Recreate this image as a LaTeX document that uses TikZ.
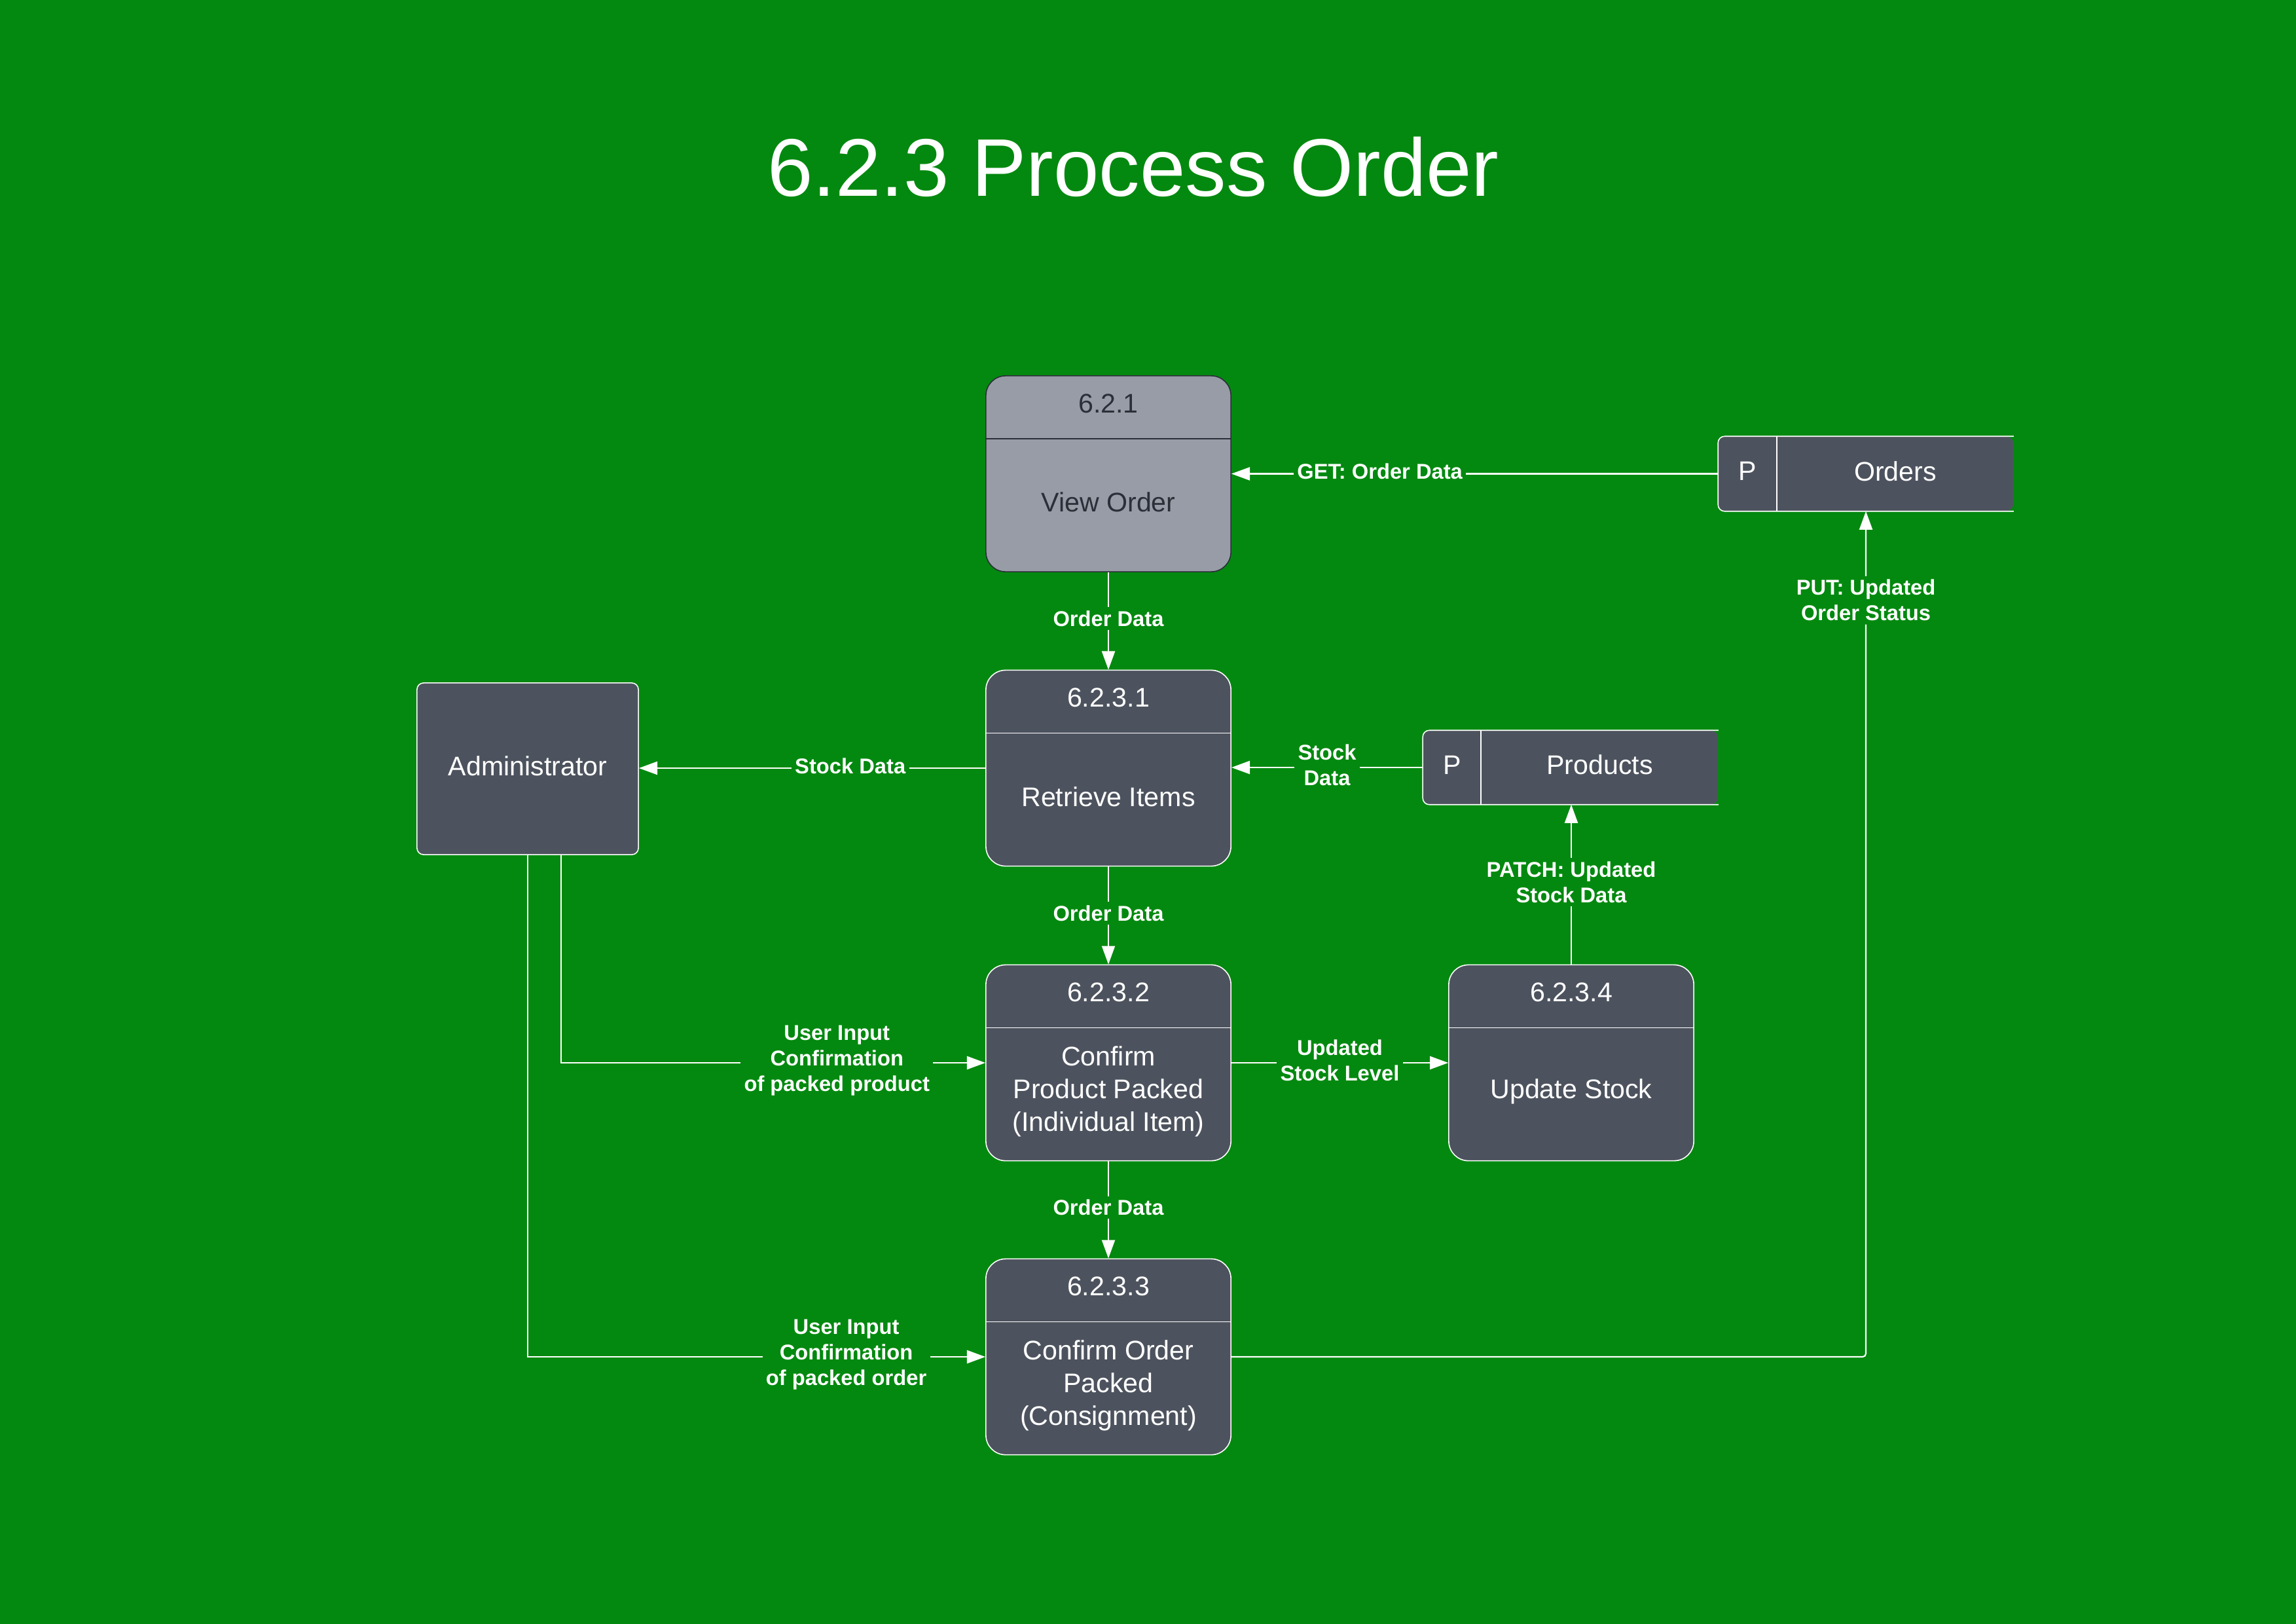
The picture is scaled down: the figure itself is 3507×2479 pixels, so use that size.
\documentclass[tikz,border=0pt]{standalone}
\usepackage{fontspec}
\setmainfont{Liberation Sans}
\usetikzlibrary{arrows.meta}
\definecolor{bg}{HTML}{03890F}
\definecolor{boxfill}{HTML}{4D535E}
\definecolor{lightfill}{HTML}{979CA7}
\definecolor{darktext}{HTML}{2B2F37}
\tikzset{
  proc/.style={rectangle, rounded corners=0.3cm, draw=white, line width=0.45pt, fill=boxfill, minimum width=3.74cm, minimum height=2.99cm, inner sep=0pt},
  procdiv/.style={draw=white, line width=0.45pt},
  proctxt/.style={text=white, font=\fontsize{11.7}{14.3}\selectfont, align=center, inner sep=0pt, yshift=0.04cm},
  light/.style={rectangle, rounded corners=0.3cm, draw=darktext, line width=0.45pt, fill=lightfill, minimum width=3.74cm, minimum height=2.99cm, inner sep=0pt},
  lightdiv/.style={draw=darktext, line width=0.45pt},
  lighttxt/.style={text=darktext, font=\fontsize{11.7}{14.3}\selectfont, align=center, inner sep=0pt, yshift=0.04cm},
  store/.style={rectangle, rounded corners=0.1cm, fill=boxfill, inner sep=0pt},
  storeline/.style={draw=white, line width=0.45pt, rounded corners=0.1cm},
  storetxt/.style={text=white, font=\fontsize{11.7}{14.3}\selectfont, inner sep=0pt, yshift=0.04cm},
  entity/.style={rectangle, rounded corners=0.1cm, draw=white, line width=0.45pt, fill=boxfill, minimum width=3.38cm, minimum height=2.62cm},
  entitytxt/.style={text=white, font=\fontsize{11.7}{14.3}\selectfont, inner sep=0pt, yshift=0.04cm},
  lbl/.style={fill=bg, text=white, font=\fontsize{9.3}{11.1}\selectfont\bfseries, align=center, inner sep=1.5pt, yshift=0.035cm},
  flow/.style={draw=white, line width=0.6pt, -{Triangle[length=8pt,width=5.7pt]}},
  titletxt/.style={text=white, font=\fontsize{35.5}{42}\selectfont},
}
\newcommand{\ProcNode}[5]{%
  \node[#5] (#1) at (#2) {};
  \draw[#5div] ([yshift=-0.97cm]#1.north west) -- ([yshift=-0.97cm]#1.north east);
  \node[#5txt] (#1-num) at ([yshift=-0.47cm]#1.north) {#3};
  \node[#5txt] (#1-name) at ([yshift=-1.98cm]#1.north) {#4};
}
\begin{document}
\begin{tikzpicture}[x=0.01cm,y=-0.01cm]
\useasboundingbox (0,0) rectangle (3507,2479);
\fill[bg] (-10,-10) rectangle (3517,2489);

\node[titletxt] (title) at (1731,255) {6.2.3 Process Order};

\ProcNode{p621}{1693,723.5}{6.2.1}{View Order}{light}
\ProcNode{p6231}{1693,1173}{6.2.3.1}{Retrieve Items}{proc}
\ProcNode{p6232}{1693,1623}{6.2.3.2}{Confirm\\Product Packed\\(Individual Item)}{proc}
\ProcNode{p6233}{1693,2072}{6.2.3.3}{Confirm Order\\Packed\\(Consignment)}{proc}
\ProcNode{p6234}{2400,1623}{6.2.3.4}{Update Stock}{proc}

\node[entity] (admin) at (806,1174) {};
\node[entitytxt] (admin-name) at (admin.center) {Administrator};

% Orders store
\node[store, minimum width=4.5cm, minimum height=1.13cm] (orders) at (2850,723.5) {};
\draw[storeline] (orders.north east) -- (orders.north west) -- (orders.south west) -- (orders.south east);
\draw[storeline] ([xshift=0.9cm]orders.north west) -- ([xshift=0.9cm]orders.south west);
\node[storetxt] (orders-p) at ([xshift=0.45cm]orders.west) {P};
\node[storetxt] (orders-name) at ([xshift=0.45cm]orders.center) {Orders};

% Products store
\node[store, minimum width=4.5cm, minimum height=1.12cm] (products) at (2399,1172) {};
\draw[storeline] (products.north east) -- (products.north west) -- (products.south west) -- (products.south east);
\draw[storeline] ([xshift=0.89cm]products.north west) -- ([xshift=0.89cm]products.south west);
\node[storetxt] (products-p) at ([xshift=0.445cm]products.west) {P};
\node[storetxt] (products-name) at ([xshift=0.445cm]products.center) {Products};

% connectors
\draw[flow] (orders.west) -- node[lbl, pos=0.695]{GET: Order Data} (orders.west -| p621.east);
\draw[flow] (p621.south) -- node[lbl]{Order Data} (p6231.north);
\draw[flow] (p6231.south) -- node[lbl]{Order Data} (p6232.north);
\draw[flow] (p6232.south) -- node[lbl]{Order Data} (p6233.north);
\draw[flow] (p6231.west) -- node[lbl, pos=0.39]{Stock Data} (p6231.west -| admin.east);
\draw[flow] (products.west) -- node[lbl]{Stock\\Data} (products.west -| p6231.east);
\draw[flow] (p6234.north) -- node[lbl]{PATCH: Updated\\Stock Data} (p6234.north |- products.south);
\draw[flow] (p6232.east) -- node[lbl]{Updated\\Stock Level} (p6234.west);
\coordinate (a1) at (857,0);
\draw[flow] (admin.south -| a1) |- node[lbl, pos=0.825]{User Input\\Confirmation\\of packed product} (p6232.west);
\draw[flow] (admin.south) |- node[lbl, pos=0.848]{User Input\\Confirmation\\of packed order} (p6233.west);
\draw[flow, rounded corners=0.05cm] (p6233.east) -| node[lbl, pos=0.946]{PUT: Updated\\Order Status} (orders.south);
\end{tikzpicture}
\end{document}
